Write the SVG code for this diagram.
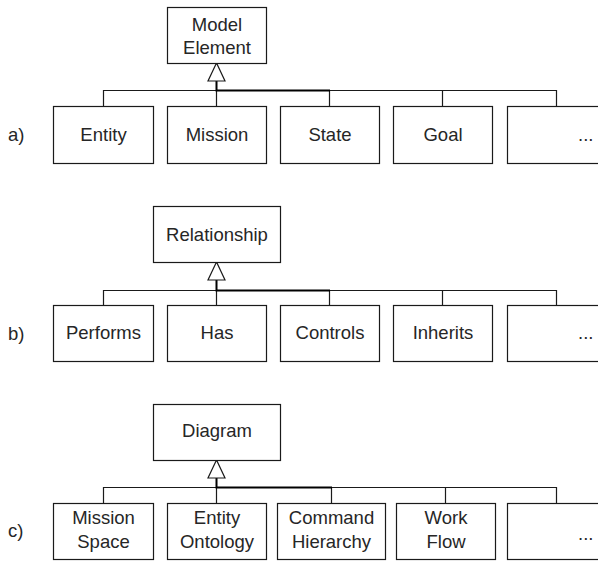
<svg xmlns="http://www.w3.org/2000/svg" width="598" height="561" viewBox="0 0 598 561">
<style>
.box{fill:#fff;stroke:#1a1a1a;stroke-width:1.2}
.t{font-family:"Liberation Sans",Arial,sans-serif;font-size:18.5px;fill:#262626;text-anchor:middle}
.lbl{font-family:"Liberation Sans",Arial,sans-serif;font-size:18.5px;fill:#262626}
.c{fill:none;stroke:#1a1a1a;stroke-width:1.2}
.ck{fill:none;stroke:#000;stroke-width:2}
.tri{fill:#fff;stroke:#1a1a1a;stroke-width:1.2}
</style>

<!-- a) -->
<text class="lbl" x="8" y="141">a)</text>
<g id="a-connectors">
<path class="c" d="M103.5,106 V90.5 H556.5 V106 M216.5,90.5 V106 M329.5,90.5 V106 M442.5,90.5 V106"/>
<path class="ck" d="M216.5,81 V90.5 H330"/>
<polygon class="tri" points="216.5,63 208,81 225,81"/>
</g>
<g id="a-model-element"><rect class="box" x="167.5" y="7.5" width="99" height="56"/><text class="t" x="217" y="31">Model</text><text class="t" x="217" y="54">Element</text></g>
<g id="a-entity"><rect class="box" x="53.5" y="106.5" width="100" height="57"/><text class="t" x="103.5" y="141">Entity</text></g>
<g id="a-mission"><rect class="box" x="167.5" y="106.5" width="99" height="57"/><text class="t" x="217" y="141">Mission</text></g>
<g id="a-state"><rect class="box" x="280.5" y="106.5" width="99" height="57"/><text class="t" x="330" y="141">State</text></g>
<g id="a-goal"><rect class="box" x="393.5" y="106.5" width="99" height="57"/><text class="t" x="443" y="141">Goal</text></g>
<g id="a-more"><rect class="box" x="507.5" y="106.5" width="110" height="57"/><text class="lbl" x="578" y="141">...</text></g>

<!-- b) -->
<text class="lbl" x="8" y="340">b)</text>
<g id="b-connectors">
<path class="c" d="M103.5,305 V290.5 H556.5 V305 M216.5,290.5 V305 M329.5,290.5 V305 M442.5,290.5 V305"/>
<path class="ck" d="M216.5,280 V290.5 H330"/>
<polygon class="tri" points="216.5,262 208,280 225,280"/>
</g>
<g id="b-relationship"><rect class="box" x="153.5" y="206.5" width="127" height="56"/><text class="t" x="217" y="241">Relationship</text></g>
<g id="b-performs"><rect class="box" x="53.5" y="305.5" width="100" height="56"/><text class="t" x="103.5" y="339">Performs</text></g>
<g id="b-has"><rect class="box" x="167.5" y="305.5" width="99" height="56"/><text class="t" x="217" y="339">Has</text></g>
<g id="b-controls"><rect class="box" x="280.5" y="305.5" width="99" height="56"/><text class="t" x="330" y="339">Controls</text></g>
<g id="b-inherits"><rect class="box" x="393.5" y="305.5" width="99" height="56"/><text class="t" x="443" y="339">Inherits</text></g>
<g id="b-more"><rect class="box" x="507.5" y="305.5" width="110" height="56"/><text class="lbl" x="578" y="339">...</text></g>

<!-- c) -->
<text class="lbl" x="8" y="537">c)</text>
<g id="c-connectors">
<path class="c" d="M103.5,503 V487.5 H556.5 V503 M216.5,487.5 V503 M331.5,487.5 V503 M445.5,487.5 V503"/>
<path class="ck" d="M216.5,478 V487.5 H332"/>
<polygon class="tri" points="216.5,460 208,478 225,478"/>
</g>
<g id="c-diagram"><rect class="box" x="153.5" y="404.5" width="127" height="56"/><text class="t" x="217" y="437">Diagram</text></g>
<g id="c-mission-space"><rect class="box" x="53.5" y="503.5" width="100" height="56"/><text class="t" x="103.5" y="524">Mission</text><text class="t" x="103.5" y="548">Space</text></g>
<g id="c-entity-ontology"><rect class="box" x="167.5" y="503.5" width="99" height="56"/><text class="t" x="217" y="524">Entity</text><text class="t" x="217" y="548">Ontology</text></g>
<g id="c-command-hierarchy"><rect class="box" x="277.5" y="503.5" width="108" height="56"/><text class="t" x="331.5" y="524">Command</text><text class="t" x="331.5" y="548">Hierarchy</text></g>
<g id="c-work-flow"><rect class="box" x="396.5" y="503.5" width="99" height="56"/><text class="t" x="446" y="524">Work</text><text class="t" x="446" y="548">Flow</text></g>
<g id="c-more"><rect class="box" x="507.5" y="503.5" width="110" height="56"/><text class="lbl" x="578" y="540">...</text></g>
</svg>
